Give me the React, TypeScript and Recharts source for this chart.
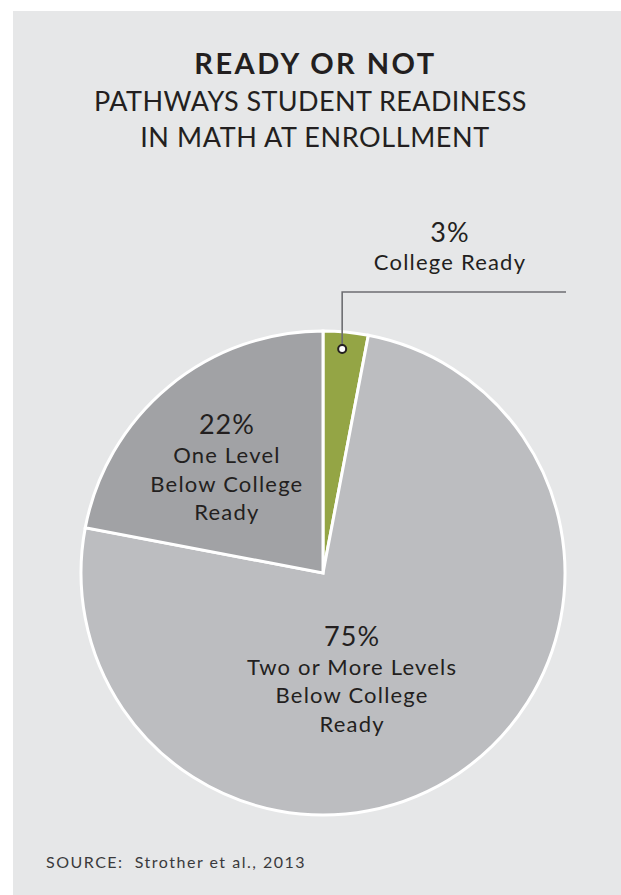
import { PieChart, Pie, Cell } from "recharts";

// values
const categories = [
  "College Ready",
  "Two or More Levels Below College Ready",
  "One Level Below College Ready",
];
const shares = [3, 75, 22];
const shareLabels = ["3%", "75%", "22%"];
const labelLines = [
  ["College Ready"],
  ["Two or More Levels", "Below College", "Ready"],
  ["One Level", "Below College", "Ready"],
];

const data = categories.map((name, i) => ({
  name,
  value: shares[i],
  pct: shareLabels[i],
  lines: labelLines[i],
}));

const colors = ["#94a545", "#bcbdc0", "#a1a2a5"];
// where each inside label sits, relative to the slice's mid angle
const labelSpots = [
  { r: 0, dAngle: 0 },
  { r: 111, dAngle: -19 },
  { r: 142, dAngle: 3 },
];

const RADIAN = Math.PI / 180;
const ink = "#231f20";
const font = "Lato, 'Open Sans', sans-serif";

const renderLabel = (props: any) => {
  const { cx, cy, midAngle, outerRadius, index, payload } = props;
  const row = payload?.payload ?? payload;
  if (index === 0) {
    const rr = outerRadius - 17;
    const dx = cx + rr * Math.cos(-midAngle * RADIAN) - 2;
    const dy = cy + rr * Math.sin(-midAngle * RADIAN);
    const lineY = cy - outerRadius - 39;
    const endX = cx + outerRadius + 1;
    const tx = cx + 127;
    return (
      <g>
        <polyline
          points={`${dx},${dy} ${dx},${lineY} ${endX},${lineY}`}
          fill="none"
          stroke="#6d6e71"
          strokeWidth={1.6}
        />
        <circle cx={dx} cy={dy} r={4} fill="#fff" stroke={ink} strokeWidth={2} />
        <text
          x={tx}
          y={lineY - 60 + 0.358 * 27}
          textAnchor="middle"
          fontFamily={font}
          fontSize={27}
          letterSpacing={1}
          fill={ink}
        >
          {row.pct}
        </text>
        <text
          x={tx}
          y={lineY - 30 + 0.358 * 22}
          textAnchor="middle"
          fontFamily={font}
          fontSize={22}
          letterSpacing={1.2}
          fill={ink}
        >
          {row.lines[0]}
        </text>
      </g>
    );
  }
  const spot = labelSpots[index];
  const a = (midAngle + spot.dAngle) * RADIAN;
  const x = cx + spot.r * Math.cos(-a);
  const y = cy + spot.r * Math.sin(-a);
  const offsets = [-13, 15.5, 44];
  return (
    <g>
      <text
        x={x}
        y={y - 44 + 0.358 * 27}
        textAnchor="middle"
        fontFamily={font}
        fontSize={27}
        letterSpacing={1}
        fill={ink}
      >
        {row.pct}
      </text>
      {row.lines.map((ln: string, i: number) => (
        <text
          key={i}
          x={x}
          y={y + offsets[i] + 0.358 * 22}
          textAnchor="middle"
          fontFamily={font}
          fontSize={22}
          letterSpacing={1.2}
          fill={ink}
        >
          {ln}
        </text>
      ))}
    </g>
  );
};

export default function App() {
  const line = (extra: any) => ({
    position: "absolute" as const,
    left: 0,
    width: 621,
    textAlign: "center" as const,
    lineHeight: 1,
    fontFamily: font,
    color: ink,
    whiteSpace: "nowrap" as const,
    ...extra,
  });
  return (
    <div
      style={{
        position: "absolute",
        left: 0,
        top: 0,
        width: 621,
        height: 895,
        overflow: "hidden",
        background: "#fff",
      }}
    >
      <div
        style={{
          position: "absolute",
          left: 13,
          top: 11,
          right: 0,
          bottom: 0,
          background: "#e6e7e8",
        }}
      />
      <div style={line({ top: 48, fontSize: 29, fontWeight: 700, letterSpacing: 2.5, width: 631 })}>
        READY OR NOT
      </div>
      <div style={line({ top: 87, fontSize: 27, letterSpacing: 0.4 })}>
        PATHWAYS STUDENT READINESS
      </div>
      <div style={line({ top: 123, fontSize: 27, letterSpacing: 0.6, width: 630 })}>
        IN MATH AT ENROLLMENT
      </div>
      <div
        style={{
          position: "absolute",
          left: 46,
          top: 854,
          fontSize: 16,
          lineHeight: 1,
          letterSpacing: 1.5,
          fontFamily: font,
          color: "#3a3a3c",
          whiteSpace: "pre",
        }}
      >
        {"SOURCE:  Strother et al., 2013"}
      </div>
      <div style={{ position: "absolute", left: 0, top: 0 }}>
        <PieChart width={621} height={895}>
          <Pie
            data={data}
            dataKey="value"
            nameKey="name"
            cx={318}
            cy={568}
            outerRadius={242}
            startAngle={90}
            endAngle={-270}
            stroke="#ffffff"
            strokeWidth={3}
            labelLine={false}
            label={renderLabel}
            isAnimationActive={false}
          >
            {data.map((_, i) => (
              <Cell key={i} fill={colors[i]} />
            ))}
          </Pie>
        </PieChart>
      </div>
    </div>
  );
}
